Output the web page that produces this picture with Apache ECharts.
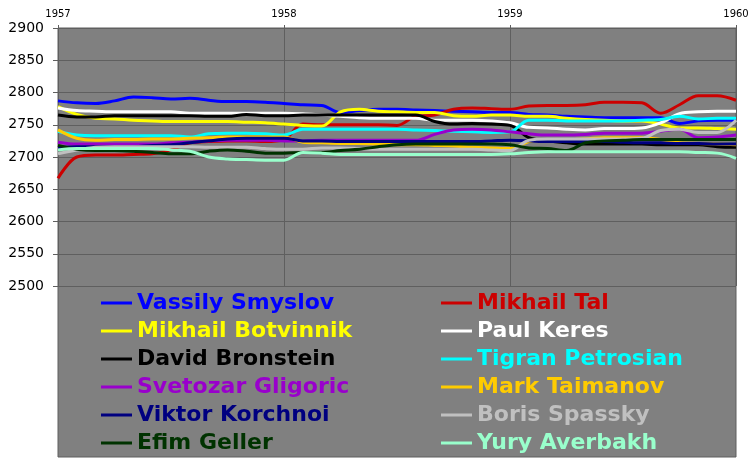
<!DOCTYPE html>
<html>
<head>
<meta charset="utf-8">
<script src="https://cdn.jsdelivr.net/npm/echarts@6/dist/echarts.min.js"></script>
<style>
html,body{margin:0;padding:0;background:#fff;}
#chart{width:756px;height:464px;}
</style>
</head>
<body>
<div id="chart"></div>
<script>
// Monthly categories, Jan 1957 .. Jan 1960
var months = [
  'Jan 1957','Feb 1957','Mar 1957','Apr 1957','May 1957','Jun 1957','Jul 1957','Aug 1957','Sep 1957','Oct 1957','Nov 1957','Dec 1957',
  'Jan 1958','Feb 1958','Mar 1958','Apr 1958','May 1958','Jun 1958','Jul 1958','Aug 1958','Sep 1958','Oct 1958','Nov 1958','Dec 1958',
  'Jan 1959','Feb 1959','Mar 1959','Apr 1959','May 1959','Jun 1959','Jul 1959','Aug 1959','Sep 1959','Oct 1959','Nov 1959','Dec 1959',
  'Jan 1960'
];
var yTicks = [2500, 2550, 2600, 2650, 2700, 2750, 2800, 2850, 2900];

var smyslov   = [2787,2784,2783,2787,2793,2792,2790,2791,2788,2786,2786,2785,2783, 2781,2780,2769,2772,2774,2774,2773,2772,2771,2770,2769,2769, 2766,2765,2763,2762,2761,2761,2761,2761,2752,2756,2757,2757];
var tal       = [2667,2700,2703,2703,2704,2705,2711,2722,2724,2725,2725,2724,2727, 2751,2750,2750,2750,2750,2749,2763,2765,2774,2776,2775,2774, 2779,2780,2780,2781,2785,2785,2784,2768,2781,2795,2795,2788];
var botvinnik = [2778,2766,2760,2759,2757,2756,2755,2755,2755,2755,2754,2753,2751, 2749,2748,2770,2774,2771,2770,2769,2769,2764,2763,2765,2765, 2763,2763,2760,2758,2757,2756,2756,2751,2745,2745,2744,2743];
var keres     = [2776,2772,2771,2770,2770,2770,2770,2768,2768,2768,2768,2768,2768, 2767,2765,2763,2761,2760,2760,2760,2757,2757,2757,2756,2753, 2746,2745,2743,2742,2744,2744,2745,2753,2767,2770,2771,2771];
var bronstein = [2765,2762,2762,2764,2764,2764,2764,2764,2763,2763,2766,2764,2764, 2765,2765,2765,2765,2765,2765,2765,2755,2751,2752,2751,2749, 2730,2725,2722,2720,2720,2720,2720,2719,2719,2719,2716,2715];
var petrosian = [2740,2734,2733,2733,2733,2733,2733,2731,2736,2737,2737,2736,2734, 2743,2743,2743,2743,2743,2743,2742,2741,2740,2739,2738,2739, 2757,2757,2756,2756,2756,2756,2757,2758,2763,2759,2760,2760];
var gligoric  = [2723,2720,2720,2720,2720,2720,2722,2723,2725,2726,2726,2726,2725, 2725,2726,2726,2726,2726,2726,2726,2735,2742,2743,2742,2739, 2736,2734,2734,2735,2737,2737,2737,2740,2743,2730,2731,2734];
var taimanov  = [2742,2729,2726,2727,2727,2728,2728,2729,2730,2731,2731,2731,2731, 2723,2722,2721,2721,2720,2719,2719,2718,2717,2715,2714,2713, 2724,2727,2727,2728,2730,2730,2730,2727,2722,2721,2720,2719];
var korchnoi  = [2715,2716,2716,2716,2716,2718,2719,2722,2725,2728,2729,2729,2729, 2725,2725,2724,2724,2724,2724,2724,2724,2724,2724,2725,2726, 2725,2724,2724,2724,2724,2723,2722,2722,2721,2721,2720,2720];
var spassky   = [2705,2711,2715,2716,2716,2716,2716,2716,2715,2715,2715,2713,2712, 2712,2714,2714,2713,2712,2712,2712,2712,2712,2712,2711,2710, 2726,2728,2728,2728,2728,2728,2729,2741,2743,2738,2738,2757];
var geller    = [2718,2712,2710,2710,2709,2707,2705,2705,2709,2711,2709,2706,2706, 2707,2707,2710,2712,2716,2719,2720,2720,2720,2720,2720,2719, 2714,2713,2710,2722,2725,2726,2727,2727,2727,2727,2727,2727];
var averbakh  = [2711,2713,2713,2713,2713,2713,2711,2709,2700,2697,2696,2695,2695, 2707,2706,2704,2704,2704,2704,2704,2704,2704,2704,2704,2705, 2707,2708,2708,2708,2708,2708,2708,2708,2708,2707,2706,2698];

var players = [
  {name:'Vassily Smyslov',   color:'#0000FF', data:smyslov},
  {name:'Mikhail Tal',       color:'#CC0000', data:tal},
  {name:'Mikhail Botvinnik', color:'#FFFF00', data:botvinnik},
  {name:'Paul Keres',        color:'#FFFFFF', data:keres},
  {name:'David Bronstein',   color:'#000000', data:bronstein},
  {name:'Tigran Petrosian',  color:'#00FFFF', data:petrosian},
  {name:'Svetozar Gligoric', color:'#9900CC', data:gligoric},
  {name:'Mark Taimanov',     color:'#FFCC00', data:taimanov},
  {name:'Viktor Korchnoi',   color:'#000080', data:korchnoi},
  {name:'Boris Spassky',     color:'#C0C0C0', data:spassky},
  {name:'Efim Geller',       color:'#003300', data:geller},
  {name:'Yury Averbakh',     color:'#99FFCC', data:averbakh}
];
var leftNames  = ['Vassily Smyslov','Mikhail Botvinnik','David Bronstein','Svetozar Gligoric','Viktor Korchnoi','Efim Geller'];
var rightNames = ['Mikhail Tal','Paul Keres','Tigran Petrosian','Mark Taimanov','Boris Spassky','Yury Averbakh'];

var colorOf = {};
players.forEach(function(p){ colorOf[p.name] = p.color; });

function legendData(names){
  return names.map(function(n){ return {name:n, textStyle:{color:colorOf[n]}}; });
}
var FONT = 'DejaVu Sans';
function legendCfg(names, left){
  return {
    orient:'vertical', left:left, top:292, padding:0, itemGap:6,
    icon:'rect', itemWidth:31, itemHeight:3,
    textStyle:{fontFamily:FONT, fontWeight:'bold', fontSize:22, lineHeight:22},
    data:legendData(names)
  };
}

var chart = echarts.init(document.getElementById('chart'), null, {renderer:'canvas'});
chart.setOption({
  animation:false,
  backgroundColor:'#ffffff',
  graphic:[{
    type:'rect', z:-10, silent:true,
    shape:{x:58, y:28, width:678, height:429},
    style:{fill:'#808080', stroke:'#5f5f5f', lineWidth:1}
  }],
  grid:{left:58, right:20, top:28, bottom:178, containLabel:false},
  legend:[legendCfg(leftNames, 101), legendCfg(rightNames, 441)],
  xAxis:{
    type:'category', position:'top', boundaryGap:false, data:months,
    axisLine:{show:true, lineStyle:{color:'#5f5f5f', width:1}},
    axisTick:{show:true, interval:11, length:3, lineStyle:{color:'#5f5f5f'}},
    axisLabel:{interval:11, margin:9, fontFamily:FONT, fontSize:10, color:'#000',
      formatter:function(v){ return v.slice(-4); }},
    splitLine:{show:true, interval:11, lineStyle:{color:'#5f5f5f', width:1}}
  },
  yAxis:{
    type:'value', min:yTicks[0], max:yTicks[yTicks.length-1], interval:50,
    axisLine:{show:true, lineStyle:{color:'#5f5f5f', width:1}},
    axisTick:{show:true, length:5, lineStyle:{color:'#5f5f5f'}},
    axisLabel:{margin:14, fontFamily:FONT, fontSize:14, color:'#000',
      formatter:function(v){ return String(v); }},
    splitLine:{show:true, lineStyle:{color:'#5f5f5f', width:1}}
  },
  series:players.map(function(p){
    return {
      name:p.name, type:'line', data:p.data, smooth:0.35,
      showSymbol:false, symbol:'none',
      lineStyle:{color:p.color, width:3},
      itemStyle:{color:p.color}
    };
  })
});
</script>
</body>
</html>
